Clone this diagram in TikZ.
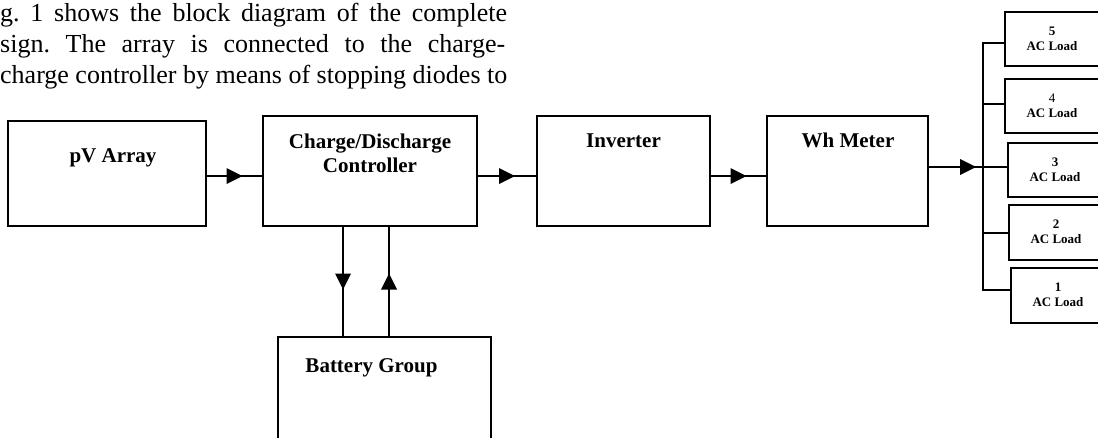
\documentclass[tikz,border=0pt]{standalone}
\usepackage{fontspec}
\setmainfont{Liberation Serif}
\usetikzlibrary{decorations.markings,calc}
\frenchspacing
\tikzset{
  blk/.style={draw, line width=1.8pt, rectangle, inner sep=0pt, outer sep=0pt},
  wire/.style={line width=1.8pt},
  flow/.style={wire, postaction={decorate}, decoration={markings,
      mark=at position 0.5 with {\fill (-8pt,-8pt) -- (8pt,0pt) -- (-8pt,8pt) -- cycle;}}},
  lbl/.style={font=\fontsize{21}{24}\selectfont\bfseries, anchor=base, inner sep=0pt},
  ldtxt/.style={font=\fontsize{13}{15}\selectfont\bfseries, anchor=base, inner sep=0pt},
  ldnum/.style={font=\fontsize{13}{15}\selectfont, anchor=base, inner sep=0pt},
  para/.style={font=\fontsize{26}{31}\selectfont, anchor=base west, inner sep=0pt},
}
\begin{document}
\begin{tikzpicture}[x=1pt,y=-1pt]
\useasboundingbox (0,0) rectangle (1098,437);

% paragraph text (cropped)
\node[para] (p1) at (0,21) {\makebox[507pt][s]{g. 1 shows the block diagram of the complete}};
\node[para] (p2) at (0,52) {\makebox[505pt][s]{sign. The array is connected to the charge-}};
\node[para] (p3) at (0,83) {charge controller by means of stopping diodes to};

% main blocks
\node[blk, minimum width=198pt, minimum height=105pt] (pv)  at (107,173.5) {};
\node[blk, minimum width=214pt, minimum height=110pt] (cc)  at (370,171) {};
\node[blk, minimum width=173pt, minimum height=110pt] (inv) at (623.5,171) {};
\node[blk, minimum width=161pt, minimum height=110pt] (wh)  at (847.5,171) {};
\node[blk, minimum width=213pt, minimum height=126pt] (bat) at (384.5,400) {};

\node[lbl] (tpv)  at (113,162) {pV Array};
\node[lbl] (tcc1) at (370,148) {Charge/Discharge};
\node[lbl] (tcc2) at (370,172) {Controller};
\node[lbl] (tinv) at (623.5,147) {Inverter};
\node[lbl] (twh)  at (848,147) {Wh Meter};
\node[lbl] (tbat) at (371.5,372) {Battery Group};

% load blocks
\node[blk, minimum width=96pt, minimum height=54pt] (L5) at (1053,39) {};
\node[blk, minimum width=96pt, minimum height=54pt] (L4) at (1053,106) {};
\node[blk, minimum width=96pt, minimum height=54pt] (L3) at (1056,170) {};
\node[blk, minimum width=96pt, minimum height=55pt] (L2) at (1057,232.5) {};
\node[blk, minimum width=96pt, minimum height=55pt] (L1) at (1059,295.5) {};

\node[ldtxt] (n5) at ($(L5.north west)+(47,23.5)$) {5};
\node[ldtxt] (a5) at ($(L5.north west)+(47,38.5)$) {AC Load};
\node[ldnum] (n4) at ($(L4.north west)+(47,23.5)$) {4};
\node[ldtxt] (a4) at ($(L4.north west)+(47,38.5)$) {AC Load};
\node[ldtxt] (n3) at ($(L3.north west)+(47,23.5)$) {3};
\node[ldtxt] (a3) at ($(L3.north west)+(47,38.5)$) {AC Load};
\node[ldtxt] (n2) at ($(L2.north west)+(47,23.5)$) {2};
\node[ldtxt] (a2) at ($(L2.north west)+(47,38.5)$) {AC Load};
\node[ldtxt] (n1) at ($(L1.north west)+(47,23.5)$) {1};
\node[ldtxt] (a1) at ($(L1.north west)+(47,38.5)$) {AC Load};

% connector helper coordinates
\coordinate (ay) at (0,176);
\coordinate (wy) at (0,167);
\coordinate (dn) at (343,0);
\coordinate (up) at (389,0);
\coordinate (b5) at (983,43);
\coordinate (b4) at (983,104);
\coordinate (b2) at (983,233);
\coordinate (b1) at (983,290);

% connectors
\draw[flow] (pv.east |- ay) -- (cc.west |- ay);
\draw[flow] (cc.east |- ay) -- (inv.west |- ay);
\draw[flow] (inv.east |- ay) -- (wh.west |- ay);
\draw[flow] (cc.south -| dn) -- (bat.north -| dn);
\draw[flow] (bat.north -| up) -- (cc.south -| up);
\draw[flow] (wh.east |- wy) -- (L3.west |- wy);
\draw[wire] (L5.west |- b5) -- (b5) -- (b1) -- (L1.west |- b1);
\draw[wire] (b4) -- (L4.west |- b4);
\draw[wire] (b2) -- (L2.west |- b2);
\end{tikzpicture}
\end{document}
